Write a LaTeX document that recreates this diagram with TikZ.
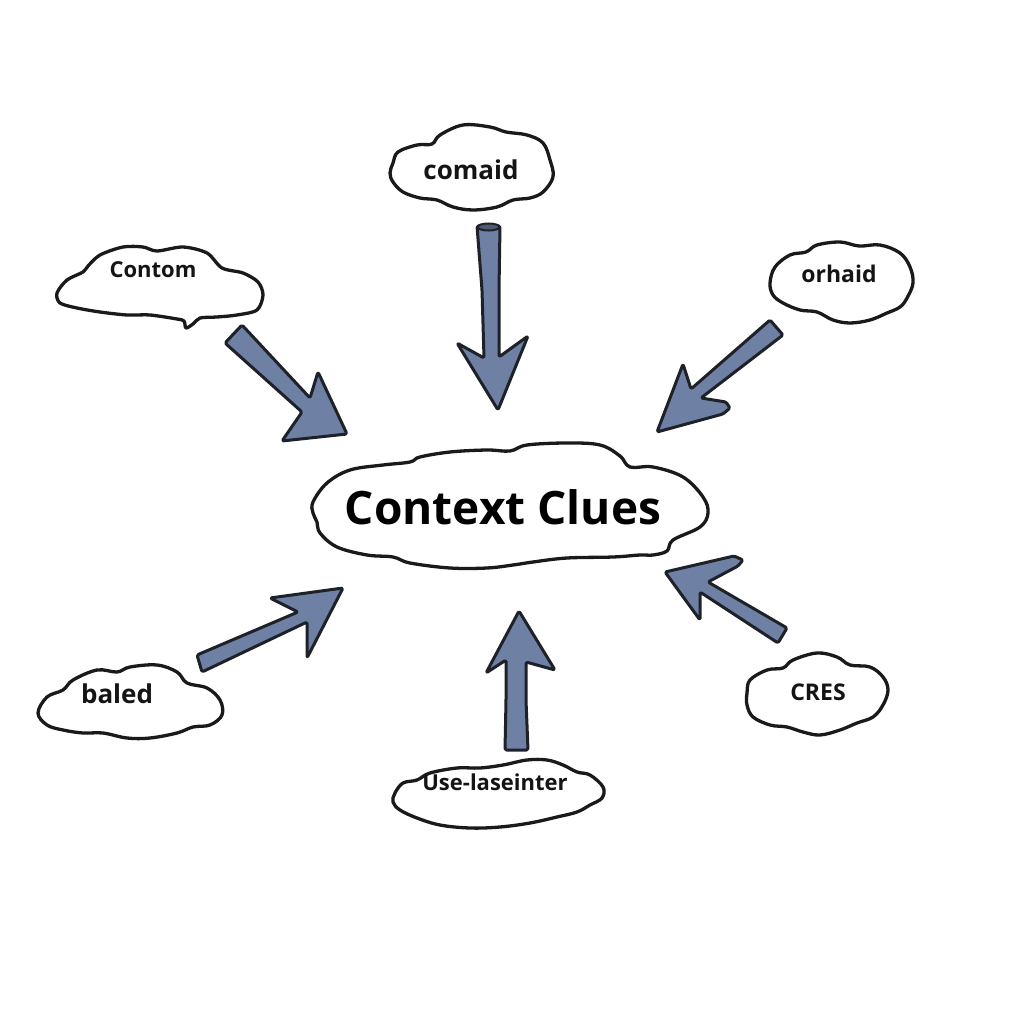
\documentclass[tikz,border=0pt]{standalone}
\usepackage{fontspec}
\setmainfont{Open Sans}
\definecolor{arrowfill}{HTML}{6E80A3}
\definecolor{ink}{HTML}{1E2228}
\definecolor{cloudink}{HTML}{1A1A1A}
\tikzset{
  cloudline/.style={draw=cloudink, line width=3.3pt, fill=white, line join=round},
  blockarrow/.style={draw=ink, line width=3pt, fill=arrowfill, line join=round, rounded corners=1.5pt},
  lbl/.style={inner sep=0pt, font=\bfseries\fontsize{22}{24}\selectfont, text=black!92},
}
\begin{document}
\begin{tikzpicture}[x=1pt,y=-1pt]
\fill[white] (0,0) rectangle (1024,1024);
\useasboundingbox (0,0) rectangle (1024,1024);

% ---------- clouds ----------
% central
\draw[cloudline] plot[smooth cycle, tension=0.6] coordinates {
(313,502) (327,483) (350,470) (383,465) (410,462) (420,457) (450,452) (487,450) (510,451)
(527,445) (567,443) (600,445) (620,456) (630,467) (653,467) (683,477) (703,497) (708,513)
(700,527) (673,540) (667,551) (653,555) (640,555) (613,557) (567,558) (533,562) (513,565)
(487,568) (450,568) (410,563) (393,557) (367,555) (337,547) (320,533) (317,522) (313,513)};
% comaid
\draw[cloudline] plot[smooth cycle, tension=0.6] coordinates {
(393,163) (398,152) (417,145) (432,144) (440,135) (463,125) (490,127) (506,132) (527,135)
(543,143) (550,160) (553,177) (543,192) (530,198) (513,200) (497,207) (473,210) (453,207)
(437,200) (420,198) (403,192) (393,182) (390,173)};
% Contom
\draw[cloudline] plot[smooth cycle, tension=0.5] coordinates {
(57,293) (67,280) (83,272) (88,266) (100,255) (123,247) (143,247) (157,251) (183,247)
(207,253) (222,268) (243,273) (258,282) (263,295) (257,310) (237,315) (217,317) (200,318)
(193,324) (186,328) (184,321) (177,319) (150,315) (127,315) (100,312) (77,308) (60,303)};
% orhaid
\draw[cloudline] plot[smooth cycle, tension=0.6] coordinates {
(770,283) (775,267) (790,255) (806,252) (817,245) (840,242) (859,246) (880,245) (900,253)
(910,267) (913,283) (907,298) (900,307) (887,313) (870,320) (850,323) (833,320) (817,312)
(800,310) (783,303) (773,295)};
% baled
\draw[cloudline] plot[smooth cycle, tension=0.6] coordinates {
(38,713) (47,697) (63,690) (73,680) (97,670) (117,672) (130,667) (157,665) (177,672)
(187,683) (207,688) (220,700) (222,715) (210,725) (193,727) (177,733) (150,738) (127,738)
(103,733) (83,733) (63,730) (47,725)};
% CRES
\draw[cloudline] plot[smooth cycle, tension=0.6] coordinates {
(747,693) (750,680) (767,670) (783,668) (793,660) (817,653) (837,657) (850,665) (870,667)
(883,677) (888,690) (883,705) (873,717) (857,723) (840,730) (820,735) (803,732) (787,727)
(770,725) (753,717) (747,705)};
% Use-laseinter
\draw[cloudline] plot[smooth cycle, tension=0.6] coordinates {
(395,793) (403,783) (417,780) (430,773) (457,768) (480,768) (503,765) (527,760) (547,760)
(563,765) (577,772) (590,775) (603,787) (602,798) (590,805) (577,812) (557,817) (530,823)
(500,827) (470,828) (440,825) (417,818) (400,810) (393,802)};

% ---------- texts ----------
\node[inner sep=0pt, font=\bfseries\fontsize{46}{50}\selectfont] (main) at (503,507) {Context Clues};
\node[lbl, font=\bfseries\fontsize{26}{28}\selectfont] (comaid) at (471,170) {comaid};
\node[lbl] (contom) at (153,270) {Contom};
\node[lbl, font=\bfseries\fontsize{23}{25}\selectfont] (orhaid) at (839,274) {orhaid};
\node[lbl, font=\bfseries\fontsize{26}{28}\selectfont] (baled) at (117,694) {baled};
\node[lbl, font=\bfseries\fontsize{23}{25}\selectfont] (cres) at (818,692) {CRES};
\node[lbl] (use) at (495,782) {Use-laseinter};

% ---------- block arrows ----------
% from comaid (top)
\draw[blockarrow] (477,226) -- (500,226) -- (499,290) -- (499,357) -- (528,336)
  -- (498,410) -- (457,343) -- (484,358) -- (482,290) -- cycle;
\draw[draw=ink, line width=2pt, fill=arrowfill!70!black] (488.5,227) ellipse [x radius=11, y radius=3.5];
% from Contom (top-left)
\draw[blockarrow] (242,325) -- (310,398) -- (318,372) -- (347,434) -- (282,441)
  -- (302,412) -- (225,343) -- cycle;
% from orhaid (top-right)
\draw[blockarrow] (770,320) -- (783,335) -- (701,398) -- (726,402) -- (730,408)
  -- (723,414) -- (657,432) -- (683,364) -- (691,389) -- cycle;
% from baled (bottom-left)
\draw[blockarrow] (197,655) -- (298,612) -- (270,598) -- (343,588) -- (307,658)
  -- (307,622) -- (202,672) -- cycle;
% from Use-laseinter (bottom)
\draw[blockarrow] (505,750) -- (528,750) -- (526,700) -- (526,662) -- (555,670)
  -- (519,611) -- (486,673) -- (506,660) -- (506,700) -- cycle;
% from CRES (bottom-right)
\draw[blockarrow] (787,628) -- (708,582) -- (738,566) -- (743,560) -- (734,556)
  -- (665,572) -- (700,620) -- (700,592) -- (778,643) -- cycle;
\end{tikzpicture}
\end{document}
